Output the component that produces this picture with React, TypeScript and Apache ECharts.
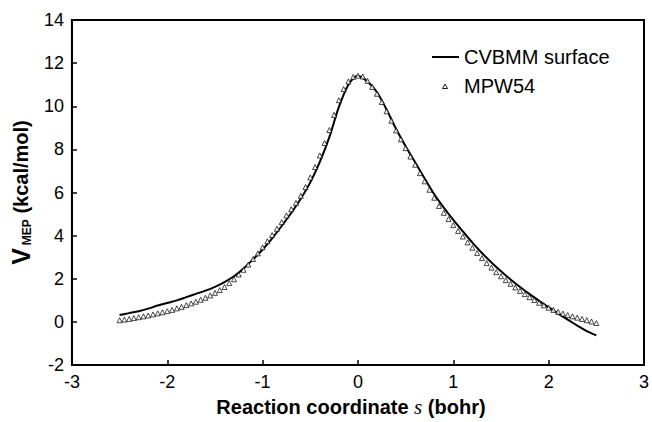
import React, { useEffect, useRef } from "react";
import * as echarts from "echarts";

// Reaction coordinate grid for the CVBMM curve (step 0.1 bohr)
const sLine: number[] = Array.from({ length: 51 }, (_, i) => Math.round((-2.5 + i * 0.1) * 100) / 100);
const cvbmm: number[] = [
  0.32, 0.41, 0.5, 0.62, 0.76, 0.88, 1.0, 1.15, 1.3, 1.45,
  1.63, 1.85, 2.12, 2.48, 2.9, 3.36, 3.88, 4.45, 5.05, 5.71,
  6.47, 7.42, 8.57, 9.97, 11.0, 11.42, 11.15, 10.65, 9.85, 8.95,
  8.15, 7.4, 6.65, 5.92, 5.3, 4.73, 4.2, 3.68, 3.2, 2.76,
  2.35, 1.97, 1.62, 1.29, 0.98, 0.68, 0.39, 0.11, -0.17, -0.42,
  -0.62,
];

// MPW54 points (step 0.05 bohr)
const sPts: number[] = Array.from({ length: 101 }, (_, i) => Math.round((-2.5 + i * 0.05) * 100) / 100);
const mpw54: number[] = [
  0.08, 0.11, 0.14, 0.18, 0.22, 0.26, 0.3, 0.35, 0.4, 0.45,
  0.5, 0.56, 0.63, 0.7, 0.78, 0.86, 0.94, 1.03, 1.12, 1.23,
  1.35, 1.48, 1.62, 1.8, 1.98, 2.2, 2.42, 2.66, 2.92, 3.18,
  3.46, 3.74, 4.03, 4.32, 4.63, 4.94, 5.23, 5.52, 5.85, 6.26,
  6.7, 7.18, 7.72, 8.3, 8.9, 9.6, 10.28, 10.8, 11.15, 11.36,
  11.42,
  11.38, 11.18, 10.9, 10.58, 10.2, 9.77, 9.33, 8.88, 8.47, 8.06,
  7.67, 7.29, 6.9, 6.52, 6.13, 5.76, 5.38, 5.06, 4.77, 4.49,
  4.22, 3.96, 3.69, 3.44, 3.2, 2.96, 2.73, 2.52, 2.31, 2.12,
  1.94, 1.77, 1.6, 1.44, 1.29, 1.15, 1.02, 0.89, 0.77, 0.66,
  0.56, 0.47, 0.39, 0.32, 0.26, 0.2, 0.14, 0.08, 0.02, -0.05,
];

const legendNames = ["CVBMM surface", "MPW54"];
const FONT = "'Liberation Sans', Arial, Helvetica, sans-serif";

export default function App() {
  const ref = useRef<HTMLDivElement>(null);
  useEffect(() => {
    if (!ref.current) return;
    const chart = echarts.init(ref.current, undefined, { renderer: "svg" });
    chart.setOption({
      animation: false,
      backgroundColor: "#fff",
      grid: {
        left: 67,
        right: 7,
        top: 20,
        bottom: 51,
        show: true,
        borderColor: "#000",
        borderWidth: 2,
      },
      xAxis: {
        type: "value",
        min: -3,
        max: 3,
        interval: 1,
        name: "{b|Reaction coordinate }{i|s}{b| (bohr)}",
        nameLocation: "middle",
        nameGap: 29,
        nameTextStyle: {
          padding: [0, 14, 0, 0],
          rich: {
            b: { fontFamily: FONT, fontSize: 20, fontWeight: "bold", color: "#000" },
            i: { fontFamily: "'Liberation Serif', 'Times New Roman', serif", fontSize: 21, fontStyle: "italic", color: "#000" },
          },
        },
        axisLine: { show: true, onZero: false, lineStyle: { color: "#000", width: 2 } },
        axisTick: { show: true, inside: true, length: 5, lineStyle: { color: "#000", width: 1.5 } },
        axisLabel: { fontFamily: FONT, fontSize: 18, color: "#000", margin: 8 },
        splitLine: { show: false },
      },
      yAxis: {
        type: "value",
        min: -2,
        max: 14,
        interval: 2,
        name: "{v|V}{sub|MEP}{b| (kcal/mol)}",
        nameLocation: "middle",
        nameGap: 35,
        nameRotate: 90,
        nameTextStyle: {
          rich: {
            v: { fontFamily: FONT, fontSize: 25, fontWeight: "bold", color: "#000" },
            sub: { fontFamily: FONT, fontSize: 12, fontWeight: "bold", color: "#000", verticalAlign: "bottom", padding: [9, 0, 0, 3] },
            b: { fontFamily: FONT, fontSize: 20, fontWeight: "bold", color: "#000" },
          },
        },
        axisLine: { show: true, onZero: false, lineStyle: { color: "#000", width: 2 } },
        axisTick: { show: true, inside: true, length: 5, lineStyle: { color: "#000", width: 1.5 } },
        axisLabel: { fontFamily: FONT, fontSize: 18, color: "#000", margin: 8 },
        splitLine: { show: false },
      },
      series: [
        {
          name: legendNames[0],
          type: "line",
          data: sLine.map((s, i) => [s, cvbmm[i]]),
          showSymbol: false,
          smooth: 0.3,
          lineStyle: { color: "#000", width: 2 },
          z: 3,
        },
        {
          name: legendNames[1],
          type: "scatter",
          data: sPts.map((s, i) => [s, mpw54[i]]),
          symbol: "triangle",
          symbolSize: 5,
          itemStyle: { color: "#fff", borderColor: "#000", borderWidth: 0.9 },
          z: 4,
        },
      ],
      graphic: [
        {
          type: "line",
          shape: { x1: 432, y1: 57, x2: 459, y2: 57 },
          style: { stroke: "#000", lineWidth: 2 },
        },
        {
          type: "text",
          x: 464,
          y: 57,
          style: {
            text: legendNames[0],
            font: `20px ${FONT}`,
            fill: "#000",
            verticalAlign: "middle",
            textVerticalAlign: "middle",
          },
        },
        {
          type: "polygon",
          shape: { points: [[445, 84], [442.5, 88.5], [447.5, 88.5]] },
          style: { fill: "#fff", stroke: "#000", lineWidth: 0.9 },
        },
        {
          type: "text",
          x: 464,
          y: 86,
          style: {
            text: legendNames[1],
            font: `20px ${FONT}`,
            fill: "#000",
            verticalAlign: "middle",
            textVerticalAlign: "middle",
          },
        },
      ],
    });
    return () => chart.dispose();
  }, []);
  return (
    <div
      ref={ref}
      style={{ position: "fixed", left: 0, top: 0, width: 652, height: 422, background: "#fff" }}
    />
  );
}
